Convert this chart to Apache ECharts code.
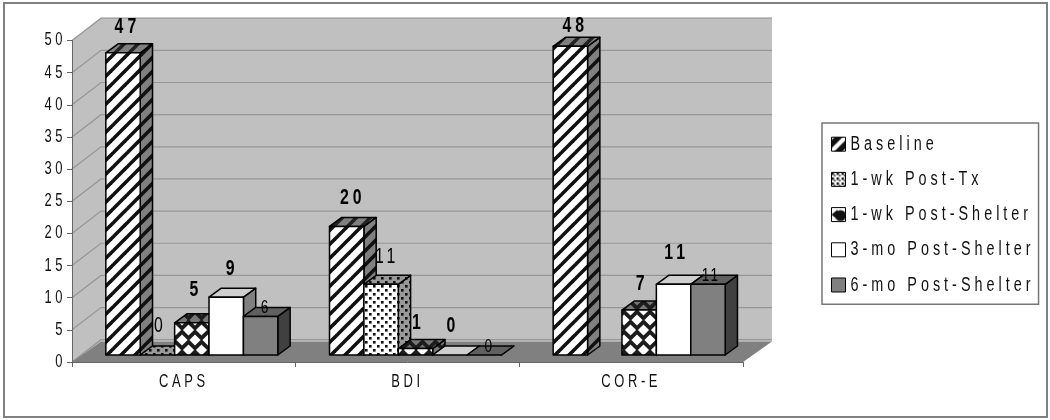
<!DOCTYPE html>
<html><head><meta charset="utf-8">
<style>html,body{margin:0;padding:0;background:#fff}#c{width:1050px;height:420px}</style>
<script src="https://cdn.jsdelivr.net/npm/echarts@6/dist/echarts.min.js"></script>
</head><body><div id="c"></div>
<script>
const categories = ['CAPS', 'BDI', 'COR-E'];
const seriesNames = ['Baseline', '1-wk Post-Tx', '1-wk Post-Shelter', '3-mo Post-Shelter', '6-mo Post-Shelter'];
const baseline = [47, 20, 48];
const postTx = [0, 11, null];
const postShelter1wk = [5, 1, 7];
const postShelter3mo = [9, 0, 11];
const postShelter6mo = [6, 0, 11];
const yTicks = [0, 5, 10, 15, 20, 25, 30, 35, 40, 45, 50];

const allValues = [baseline, postTx, postShelter1wk, postShelter3mo, postShelter6mo];

// --- style constants ---
const FONT = '"Liberation Sans",Arial,sans-serif';
const NARROW = 0.72;
const spacingBySize = {18: 3.6, 20: 4, 22: 4, 19: 2};
const WALL = {dx: 29, dy: -22.3, floorDy: -20.5};
const BAR_SHIFT = {dx: 8, dy: -7};
const BAR_DEPTH = {dx: 12.3, dy: -9};
const GROUP_RATIO = 0.769;
// label nudges [dx, dy] from the front-top centre of each bar, per series and category
const labelNudge = [
  [[4.4, -26], [6, -28], [5, -20]],
  [[3, -29], [6, -27], [0, 0]],
  [[4, -33], [3, -26], [3, -26]],
  [[6, -28], [3, -29], [3, -31]],
  [[5, -8.5], [5, -8], [3, -9]]
];
const labelStyle = [
  {size: 22, weight: 'bold'}, {size: 22, weight: 'normal'}, {size: 22, weight: 'bold'},
  {size: 22, weight: 'bold'}, {size: 19, weight: 'normal'}
];

// condensed, letter spaced text, as in the reference (no narrow face is installed)
(function () {
  const P = CanvasRenderingContext2D.prototype, fill = P.fillText, measure = P.measureText;
  function gap(ctx) {
    const s = /(\d+(?:\.\d+)?)px/.exec(ctx.font);
    return (s && spacingBySize[Math.round(+s[1])]) || 0;
  }
  P.fillText = function (t, x, y) {
    this.save();
    this.translate(x, y);
    this.scale(NARROW, 1);
    this.letterSpacing = gap(this) / NARROW + 'px';
    fill.call(this, t, 0, 0);
    this.restore();
  };
  P.measureText = function (t) {
    this.letterSpacing = gap(this) / NARROW + 'px';
    const m = measure.call(this, t);
    this.letterSpacing = '0px';
    return {
      width: m.width * NARROW,
      actualBoundingBoxAscent: m.actualBoundingBoxAscent,
      actualBoundingBoxDescent: m.actualBoundingBoxDescent,
      actualBoundingBoxLeft: m.actualBoundingBoxLeft * NARROW,
      actualBoundingBoxRight: m.actualBoundingBoxRight * NARROW,
      fontBoundingBoxAscent: m.fontBoundingBoxAscent,
      fontBoundingBoxDescent: m.fontBoundingBoxDescent
    };
  };
})();

function tile(w, h, bg, draw) {
  const c = document.createElement('canvas');
  c.width = w; c.height = h;
  const g = c.getContext('2d');
  g.fillStyle = bg; g.fillRect(0, 0, w, h);
  draw(g, w, h);
  return {image: c, repeat: 'repeat'};
}
function stripes(bg, fg) {
  return tile(14, 14, bg, function (g) {
    g.strokeStyle = fg; g.lineWidth = 3.6;
    [[-14, 14, 14, -14], [0, 14, 14, 0], [0, 28, 28, 0]].forEach(function (l) {
      g.beginPath(); g.moveTo(l[0], l[1]); g.lineTo(l[2], l[3]); g.stroke();
    });
  });
}
function dots(bg, fg) {
  return tile(8, 8, bg, function (g) {
    g.fillStyle = fg;
    g.fillRect(1, 1, 2.6, 2.6); g.fillRect(5, 5, 2.6, 2.6);
  });
}
function diamonds(bg, fg) {
  return tile(13, 20, bg, function (g) {
    g.fillStyle = fg;
    [[6.5, 10], [0, 0], [13, 0], [0, 20], [13, 20]].forEach(function (p) {
      g.beginPath();
      g.moveTo(p[0] - 5.6, p[1]); g.lineTo(p[0], p[1] - 5.6);
      g.lineTo(p[0] + 5.6, p[1]); g.lineTo(p[0], p[1] + 5.6);
      g.closePath(); g.fill();
    });
  });
}
const faces = [
  {front: stripes('#fff', '#111'), top: stripes('#808080', '#222'), side: stripes('#808080', '#111')},
  {front: dots('#fff', '#111'), top: dots('#999', '#111'), side: dots('#999', '#111')},
  {front: diamonds('#1c1c1c', '#fff'), top: diamonds('#1c1c1c', '#777'), side: diamonds('#1c1c1c', '#777')},
  {front: '#fff', top: '#cfcfcf', side: '#808080'},
  {front: '#808080', top: '#606060', side: '#404040'}
];
const legendIcons = [
  tile(14, 14, '#fff', function (g) { g.fillStyle = '#111'; g.beginPath(); g.moveTo(0, 11); g.lineTo(11, 0); g.lineTo(3, 0); g.lineTo(0, 3); g.closePath(); g.fill(); g.beginPath(); g.moveTo(14, 3); g.lineTo(3, 14); g.lineTo(11, 14); g.lineTo(14, 11); g.closePath(); g.fill(); }),
  tile(5, 5, '#fff', function (g) { g.fillStyle = '#111'; g.fillRect(0, 0, 2.5, 2.5); g.fillRect(2.5, 2.5, 1.5, 1.5); }),
  tile(14, 14, '#fff', function (g) { g.fillStyle = '#111'; g.beginPath(); g.arc(9, 8, 5.5, 0, 7); g.fill(); g.beginPath(); g.moveTo(0, 7); g.lineTo(6, 2); g.lineTo(6, 12); g.closePath(); g.fill(); }),
  '#fff', '#808080'
];

function poly(points, fill) {
  return {type: 'polygon', shape: {points: points},
    style: {fill: fill, stroke: '#000', lineWidth: 1.5, lineJoin: 'round'}};
}

function renderBar(si) {
  return function (params, api) {
    const cat = api.value(0), val = api.value(1);
    if (isNaN(val)) return;
    const band = api.size([1, 0])[0];
    const w = band * GROUP_RATIO / 5;
    const c = api.coord([cat, 0]);
    const t = api.coord([cat, val]);
    const x0 = c[0] + BAR_SHIFT.dx - w * 2.5 + si * w, x1 = x0 + w;
    const yb = c[1] + BAR_SHIFT.dy, yt = t[1] + BAR_SHIFT.dy;
    const d = BAR_DEPTH, f = faces[si], n = labelNudge[si][cat], ls = labelStyle[si];
    const kids = [
      poly([[x1, yb], [x1 + d.dx, yb + d.dy], [x1 + d.dx, yt + d.dy], [x1, yt]], f.side),
      poly([[x0, yt], [x0 + d.dx, yt + d.dy], [x1 + d.dx, yt + d.dy], [x1, yt]], f.top)
    ];
    if (val > 0) kids.push(poly([[x0, yb], [x1, yb], [x1, yt], [x0, yt]], f.front));
    kids.push({type: 'text', z2: 100, style: {
      text: String(val), x: (x0 + x1) / 2 + n[0], y: yt + n[1],
      fill: '#000', align: 'center', verticalAlign: 'middle',
      fontFamily: FONT, fontSize: ls.size, fontWeight: ls.weight}});
    return {type: 'group', children: kids};
  };
}

const option = {
  backgroundColor: '#fff',
  animation: false,
  graphic: [{type: 'rect', z: -1, shape: {x: 4, y: 3, width: 1043, height: 414},
    style: {fill: 'none', stroke: '#808080', lineWidth: 2}}],
  grid: {left: 72, top: 40.5, width: 671, height: 321.5},
  xAxis: {type: 'category', data: categories, z: 6,
    axisLine: {lineStyle: {color: '#666', width: 1}},
    axisTick: {show: true, alignWithLabel: false, length: 5, lineStyle: {color: '#666'}},
    axisLabel: {color: '#111', fontFamily: FONT, fontSize: 18, margin: 12},
    splitLine: {show: false}},
  yAxis: {type: 'value', min: 0, max: 50, interval: 5, z: 6,
    axisLine: {show: true, lineStyle: {color: '#666', width: 1}},
    axisTick: {show: true, length: 5, lineStyle: {color: '#666'}},
    axisLabel: {color: '#111', fontFamily: FONT, fontSize: 18, margin: 6},
    splitLine: {show: false}},
  legend: {
    orient: 'vertical', left: 822, top: 123, padding: [12, 4, 10, 9],
    backgroundColor: '#fff', borderColor: '#777', borderWidth: 1.5,
    itemWidth: 14, itemHeight: 14, itemGap: 16.8, selectedMode: false,
    textStyle: {color: '#111', fontFamily: FONT, fontSize: 20},
    data: seriesNames.map(function (n, i) {
      return {name: n, icon: 'rect', itemStyle: {color: legendIcons[i], borderColor: '#000', borderWidth: 1}};
    })
  },
  series: [
    {type: 'custom', name: 'wall', z: 1, silent: true, data: [[0, 0]], encode: {x: 0, y: 1},
      renderItem: function (p, api) {
        const s = p.coordSys, l = s.x, r = s.x + s.width, t = s.y, b = s.y + s.height, d = WALL;
        return {type: 'group', children: [
          {type: 'polygon', shape: {points: [[l, t], [l + d.dx, t + d.dy], [r + d.dx, t + d.dy], [r + d.dx, b + d.floorDy], [l + d.dx, b + d.floorDy], [l, b]]}, style: {fill: '#c0c0c0', stroke: null}},
          {type: 'polygon', z2: 50, shape: {points: [[l, b], [l + d.dx, b + d.floorDy], [r + d.dx, b + d.floorDy], [r, b]]}, style: {fill: '#808080', stroke: null}}
        ]};
      }},
    {type: 'custom', name: 'gridlines', z: 1, silent: true,
      data: yTicks.map(function (v) { return [0, v]; }), encode: {x: 0, y: 1},
      renderItem: function (p, api) {
        const s = p.coordSys, y = api.coord([0, api.value(1)])[1], d = WALL;
        return {type: 'polyline', z2: 10,
          shape: {points: [[s.x, y], [s.x + d.dx, y + d.dy], [s.x + s.width + d.dx, y + d.dy]]},
          style: {fill: null, stroke: '#969696', lineWidth: 1.2}};
      }}
  ].concat(seriesNames.map(function (n, si) {
    return {
      type: 'custom', name: n, z: 3, silent: true,
      itemStyle: {color: legendIcons[si]},
      data: allValues[si].map(function (v, i) { return [i, v]; }),
      encode: {x: 0, y: 1},
      renderItem: renderBar(si)
    };
  }))
};
const chart = echarts.init(document.getElementById('c'), null, {renderer: 'canvas'});
chart.setOption(option);
</script></body></html>
